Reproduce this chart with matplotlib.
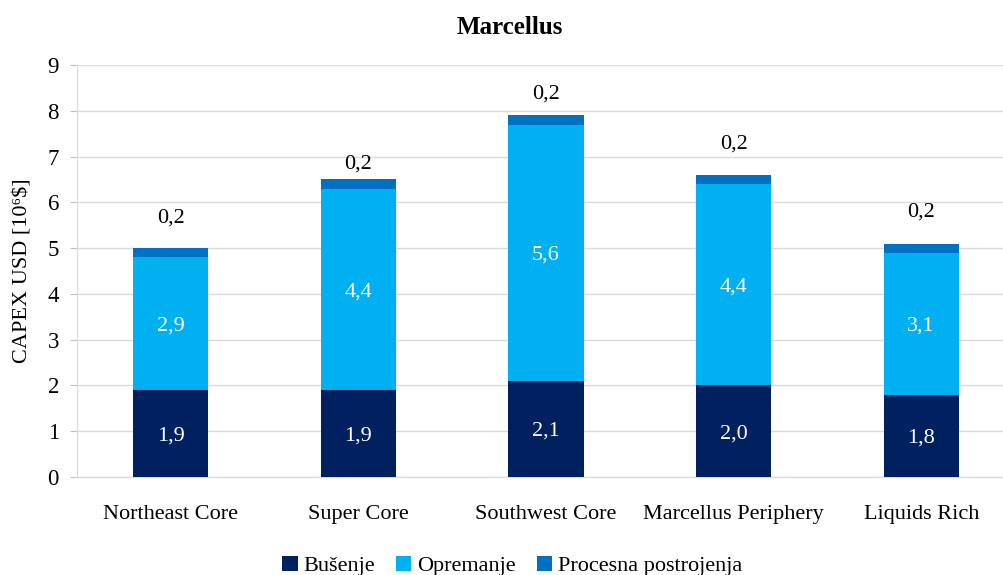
import matplotlib
matplotlib.use("Agg")
import matplotlib.pyplot as plt
import numpy as np

plt.rcParams['font.family'] = ['Liberation Serif', 'DejaVu Serif']

categories = ["Northeast Core", "Super Core", "Southwest Core", "Marcellus Periphery", "Liquids Rich"]
busenje = [1.9, 1.9, 2.1, 2.0, 1.8]
opremanje = [2.9, 4.4, 5.6, 4.4, 3.1]
procesna = [0.2, 0.2, 0.2, 0.2, 0.2]
series_names = ["Bušenje", "Opremanje", "Procesna postrojenja"]
colors = ["#002060", "#00B0F0", "#0070C0"]
yticks = list(range(0, 10))

# vertical offset (points) of the small top-segment labels above each bar
top_label_pad = [22, 11, 15, 22, 23]

fig = plt.figure(figsize=(10.04, 5.75), dpi=100)
ax = fig.add_axes([77 / 1004, 98 / 575, 927 / 1004, 412 / 575])

x = np.arange(len(categories))
width = 0.40
b1 = np.array(busenje)
b2 = np.array(opremanje)
b3 = np.array(procesna)

ax.bar(x, b1, width, color=colors[0], label=series_names[0], zorder=3)
ax.bar(x, b2, width, bottom=b1, color=colors[1], label=series_names[1], zorder=3)
ax.bar(x, b3, width, bottom=b1 + b2, color=colors[2], label=series_names[2], zorder=3)

fmt = lambda v: f"{v:.1f}".replace(".", ",")
for i in range(len(categories)):
    ax.text(x[i], b1[i] / 2, fmt(b1[i]), ha="center", va="center_baseline",
            color="white", fontsize=16, zorder=4)
    ax.text(x[i], b1[i] + b2[i] / 2, fmt(b2[i]), ha="center", va="center_baseline",
            color="white", fontsize=16, zorder=4)
    ax.annotate(fmt(b3[i]), (x[i], b1[i] + b2[i] + b3[i]),
                xytext=(0, top_label_pad[i]), textcoords="offset points",
                ha="center", va="center", color="black", fontsize=16, zorder=4)

ax.set_xlim(-0.5, -0.5 + 927 / 187.6)
ax.set_ylim(0, 9)
ax.set_yticks(yticks)
ax.set_xticks(x)
ax.set_xticklabels(categories, fontsize=16)
ax.tick_params(axis="y", labelsize=16.5, length=5, color="#BFBFBF", pad=8)
ax.tick_params(axis="x", length=0, pad=20)

ax.grid(axis="y", color="#D9D9D9", linewidth=1, zorder=0)
for s in ["top", "right"]:
    ax.spines[s].set_visible(False)
ax.spines["left"].set_color("#D9D9D9")
ax.spines["bottom"].set_color("#D9D9D9")

ax.set_ylabel("CAPEX USD [10⁶$]", fontsize=16, labelpad=11)
fig.text(510 / 1004, 1 - 27 / 575, "Marcellus", ha="center", va="center",
         fontsize=18, fontweight="bold")

fig.legend(loc="center", bbox_to_anchor=(512 / 1004, 1 - 566 / 575), ncol=3,
           frameon=False, fontsize=16, handlelength=0.7, handleheight=0.7,
           handletextpad=0.25, columnspacing=0.95)

fig.savefig("out.png", dpi=100)
